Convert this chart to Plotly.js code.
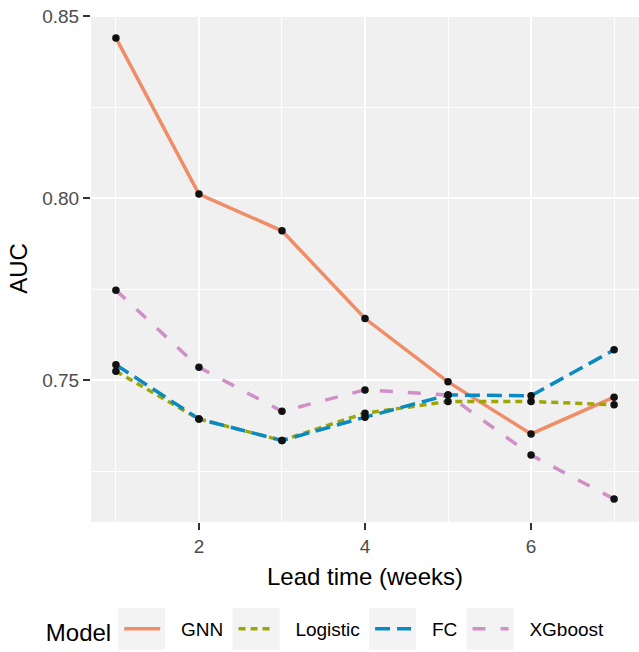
<!DOCTYPE html>
<html>
<head>
<meta charset="utf-8">
<script src="https://cdn.plot.ly/plotly-3.0.1.min.js"></script>
<style>html,body{margin:0;padding:0;background:#fff;}#chart{width:639px;height:652px;}</style>
</head>
<body>
<div id="chart"></div>
<script>
var leadTime = [1, 2, 3, 4, 5, 6, 7];
var gnn      = [0.8440, 0.8011, 0.7910, 0.7669, 0.7495, 0.7352, 0.7453];
var logistic = [0.7524, 0.7393, 0.7334, 0.7409, 0.7441, 0.7441, 0.7432];
var fc       = [0.7542, 0.7393, 0.7334, 0.7398, 0.7459, 0.7457, 0.7583];
var xgboost  = [0.7747, 0.7535, 0.7414, 0.7473, 0.7459, 0.7294, 0.7173];
var modelNames = ['GNN', 'Logistic', 'FC', 'XGboost'];
var yTickVals = [0.75, 0.80, 0.85];
var yTickText = ['0.75', '0.80', '0.85'];
var xTickVals = [2, 4, 6];

var colors = ['#EF8D68', '#9DA605', '#0B8AC1', '#D08FC6'];
var dashes = ['solid', '7px,5px', '15px,7px', '13px,15px'];
var series = [gnn, logistic, fc, xgboost];
var lead = '\u00a0\u00a0\u00a0';
var trail = '\u00a0';

var traces = [];
series.forEach(function (ys, i) {
  traces.push({
    x: leadTime, y: ys, type: 'scatter', mode: 'lines', name: lead + modelNames[i] + trail,
    line: {color: colors[i], width: 3.5, dash: dashes[i]}, legendgroup: modelNames[i]
  });
});
series.forEach(function (ys, i) {
  traces.push({
    x: leadTime, y: ys, type: 'scatter', mode: 'markers', showlegend: false,
    marker: {color: '#111111', size: 7.5}, hoverinfo: 'skip'
  });
});

var layout = {
  width: 639, height: 652,
  margin: {l: 91, r: 0, t: 15, b: 125},
  paper_bgcolor: '#ffffff',
  plot_bgcolor: '#EFF0EF',
  font: {family: 'Liberation Sans, Arial, sans-serif', color: '#000'},
  showlegend: true,
  xaxis: {
    range: [0.7, 7.3], tickvals: xTickVals, ticks: 'outside', ticklen: 7, tickwidth: 2,
    tickcolor: '#333333', tickfont: {size: 19, color: '#4D4D4D'},
    showgrid: true, gridcolor: '#ffffff', gridwidth: 2, zeroline: false, showline: false,
    minor: {dtick: 1, tick0: 1, showgrid: true, gridcolor: '#ffffff', gridwidth: 1, ticks: ''},
    title: {text: 'Lead time (weeks)', font: {size: 24, color: '#000'}, standoff: 12}
  },
  yaxis: {
    range: [0.7110, 0.8503], tickvals: yTickVals, ticktext: yTickText, ticks: 'outside', ticklen: 7, tickwidth: 2,
    tickcolor: '#333333', tickfont: {size: 19, color: '#4D4D4D'},
    showgrid: true, gridcolor: '#ffffff', gridwidth: 2, zeroline: false, showline: false,
    minor: {dtick: 0.025, tick0: 0.725, showgrid: true, gridcolor: '#ffffff', gridwidth: 1, ticks: ''},
    title: {text: 'AUC', font: {size: 24, color: '#000'}, standoff: 7}
  },
  legend: {
    orientation: 'h', x: 0.434, xanchor: 'center', y: -0.215, yanchor: 'middle',
    itemwidth: 36,
    title: {text: 'Model', font: {size: 24, color: '#000'}, side: 'left'},
    font: {size: 19, color: '#000'}, bgcolor: 'rgba(0,0,0,0)', itemclick: false
  }
};

var gd = document.getElementById('chart');
Plotly.newPlot(gd, traces, layout, {displayModeBar: false, staticPlot: true}).then(function () {
  // grey key backgrounds behind each legend symbol (ggplot-style legend keys)
  var sz = gd._fullLayout._size;
  var root = gd.getBoundingClientRect();
  var shapes = [];
  gd.querySelectorAll('.legend .traces').forEach(function (it) {
    var p = it.querySelector('.legendlines path');
    if (!p) return;
    var b = p.getBoundingClientRect();
    var x0 = b.left - root.left - 6, x1 = b.right - root.left + 5;
    var cy = (b.top + b.bottom) / 2 - root.top;
    var y0 = cy - 21, y1 = cy + 21;
    shapes.push({
      type: 'rect', xref: 'paper', yref: 'paper', layer: 'below',
      x0: (x0 - sz.l) / sz.w, x1: (x1 - sz.l) / sz.w,
      y0: 1 - (y1 - sz.t) / sz.h, y1: 1 - (y0 - sz.t) / sz.h,
      fillcolor: '#F2F3F2', line: {width: 0}
    });
  });
  return Plotly.relayout(gd, {shapes: shapes});
});
</script>
</body>
</html>
